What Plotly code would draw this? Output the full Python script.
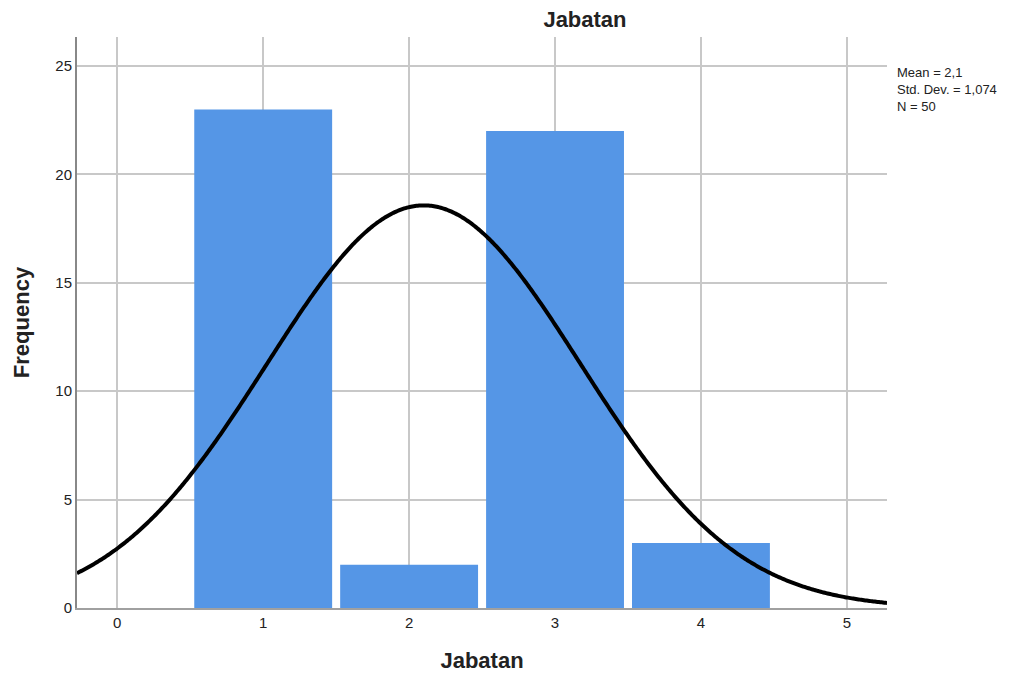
import numpy as np
import plotly.graph_objects as go

categories = [1, 2, 3, 4]
frequencies = [23, 2, 22, 3]
mean_val = 2.1
std_val = 1.074
n_val = 50
x_ticks = [0, 1, 2, 3, 4, 5]
y_ticks = [0, 5, 10, 15, 20, 25]

x_range = [-0.276, 5.275]
y_range = [0, 26.34]

xs = np.linspace(x_range[0], x_range[1], 600)
ys = n_val * 1.0 / (std_val * np.sqrt(2 * np.pi)) * np.exp(-0.5 * ((xs - mean_val) / std_val) ** 2)

fig = go.Figure()
fig.add_trace(go.Bar(x=categories, y=frequencies, width=0.945,
                     marker=dict(color="#5596E6", line=dict(width=0)),
                     hoverinfo="x+y"))
fig.add_trace(go.Scatter(x=xs, y=ys, mode="lines",
                         line=dict(color="black", width=4, simplify=False), hoverinfo="skip"))

fig.update_layout(
    width=1001, height=665,
    margin=dict(l=69, r=122, t=29, b=65, autoexpand=False),
    plot_bgcolor="white", paper_bgcolor="white",
    showlegend=False,
    font=dict(family="Liberation Sans, Arial, sans-serif", color="#222222"),
    title=dict(text="<b>Jabatan</b>", x=0.5764, xanchor="center", y=0.9835, yanchor="middle",
               font=dict(size=22, color="#222222")),
)
fig.update_xaxes(range=x_range, tickvals=x_ticks, ticktext=[str(v) for v in x_ticks],
                 showgrid=True, gridcolor="#C8C8C8", gridwidth=1.5,
                 showline=True, linecolor="#A0A0A0", linewidth=2,
                 ticks="", tickfont=dict(size=15, color="#222222"), automargin=False,
                 title=dict(text="<b>Jabatan</b>", font=dict(size=22, color="#222222"), standoff=26),
                 zeroline=False)
fig.update_yaxes(range=y_range, tickvals=y_ticks, ticktext=[str(v) for v in y_ticks],
                 showgrid=True, gridcolor="#C8C8C8", gridwidth=1.5,
                 showline=True, linecolor="#888888", linewidth=2,
                 ticks="", tickfont=dict(size=15, color="#222222"), automargin=False,
                 title=dict(text="<b>Frequency</b>", font=dict(size=22, color="#222222"), standoff=20),
                 zeroline=False)

fig.add_annotation(xref="paper", yref="paper", x=1.01, y=0.955, xanchor="left", yanchor="top",
                   align="left", showarrow=False,
                   text="Mean = 2,1<br>Std. Dev. = 1,074<br>N = 50",
                   font=dict(size=13, color="#222222"))

fig.write_html("out.html")
